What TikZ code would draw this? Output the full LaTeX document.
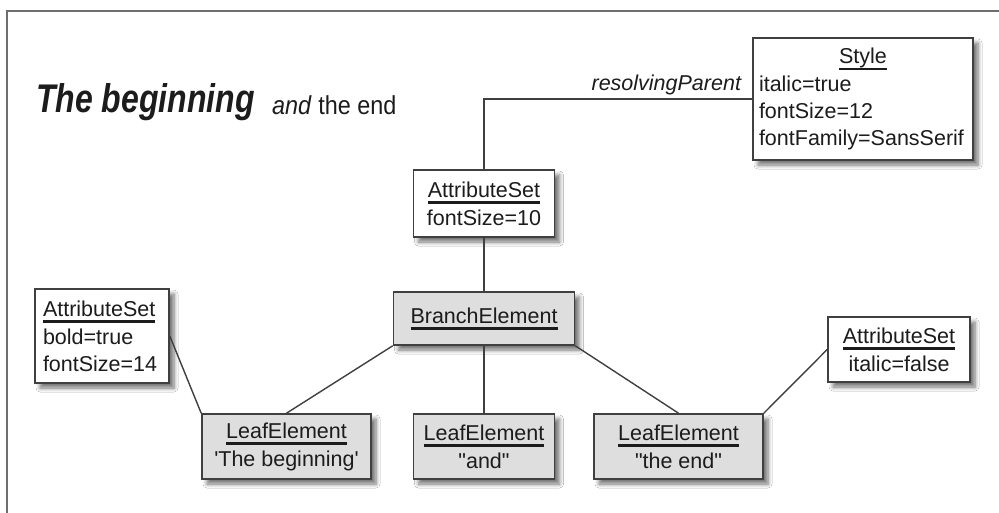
\documentclass[tikz,border=0pt]{standalone}
\usepackage{fontspec}
\setmainfont{Liberation Sans}
\newfontfamily\titlefont[FakeStretch=0.8]{Liberation Sans}
\newfontfamily\subfont[FakeStretch=0.9]{Liberation Sans}
\usetikzlibrary{shadows.blur}
\definecolor{linec}{HTML}{404040}
\definecolor{framec}{HTML}{6E6E6E}
\definecolor{leafgray}{HTML}{DEDEDE}
\definecolor{txtc}{HTML}{1C1C1C}
\newcommand\ult[1]{\leavevmode\setbox0\hbox{#1}\rlap{\rule[-6.5pt]{\wd0}{2.5pt}}\box0}
\newcommand\boxfont{\fontsize{21.5}{27}\selectfont}
\tikzset{
  obj/.style={draw=linec, line width=1.6pt, fill=white, inner sep=0pt, text=txtc,
    font=\boxfont,
    blur shadow={shadow xshift=5pt, shadow yshift=-5pt, shadow opacity=55,
      shadow blur radius=4pt, shadow blur steps=6}},
  objg/.style={obj, fill=leafgray},
  conn/.style={draw=linec, line width=1.4pt},
}
\begin{document}
\begin{tikzpicture}[x=1pt,y=-1pt]
\useasboundingbox (0,0) rectangle (999,512);
\fill[white] (0,0) rectangle (999,512);
\draw[framec, line width=2.5pt] (7,520) -- (7,11) -- (1005,11);

\node[anchor=base west, inner sep=0pt, text=txtc,
  font=\titlefont\bfseries\itshape\fontsize{40}{44}\selectfont] (title) at (36,112) {The beginning};
\node[anchor=base west, inner sep=0pt, text=txtc,
  font=\subfont\fontsize{26}{30}\selectfont] (sub) at (272,114) {\textit{and} the end};

\node[obj, text width=208pt, inner xsep=6pt, minimum height=122pt, align=left] (style) at (863,99)
  {\makebox[208pt]{\ult{Style}}\\[1pt] italic=true\\ fontSize=12\\ fontFamily=SansSerif};
\node[obj, minimum width=141pt, minimum height=67pt, align=center] (attrtop) at (484,203.5)
  {\ult{AttributeSet}\\[1pt] fontSize=10};
\node[objg, minimum width=181pt, minimum height=53pt] (branch) at (484,318.5)
  {\ult{BranchElement}};
\node[obj, text width=118pt, inner xsep=8pt, minimum height=94pt, align=left] (attrleft) at (102,336)
  {\ult{AttributeSet}\\[1pt] bold=true\\ fontSize=14};
\node[obj, minimum width=142pt, minimum height=65pt, align=center] (attrright) at (899,349.5)
  {\ult{AttributeSet}\\[1pt] italic=false};
\node[objg, minimum width=169pt, minimum height=65pt, align=center] (leaf1) at (286.5,446.5)
  {\ult{LeafElement}\\[1pt] \textquotesingle The beginning\textquotesingle};
\node[objg, minimum width=141pt, minimum height=65pt, align=center] (leaf2) at (484,446.5)
  {\ult{LeafElement}\\[1pt] \textquotedbl and\textquotedbl};
\node[objg, minimum width=169pt, minimum height=65pt, align=center] (leaf3) at (678.5,446.5)
  {\ult{LeafElement}\\[1pt] \textquotedbl the end\textquotedbl};

\draw[conn] (style.west) -| (attrtop.north);
\node[anchor=base east, inner sep=0pt, text=txtc, font=\boxfont\itshape] (rp)
  at ([shift={(-11,-9)}]style.west) {resolvingParent};
\draw[conn] (attrtop.south) -- (branch.north);
\draw[conn] (branch.south west) -- (leaf1.north);
\draw[conn] (branch.south) -- (leaf2.north);
\draw[conn] (branch.south east) -- (leaf3.north);
\draw[conn] (attrleft.east) -- (leaf1.north west);
\draw[conn] (attrright.west) -- (leaf3.north east);
\end{tikzpicture}
\end{document}
